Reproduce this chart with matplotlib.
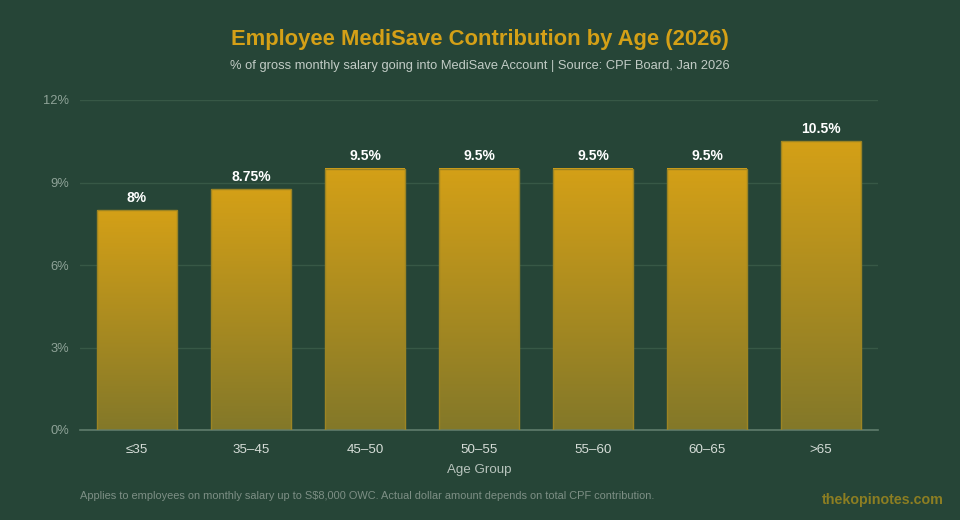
import numpy as np
import matplotlib.pyplot as plt
from matplotlib.colors import LinearSegmentedColormap

plt.rcParams['font.family'] = ['Liberation Sans', 'DejaVu Sans']

age_groups = ["≤35", "35–45", "45–50", "50–55", "55–60", "60–65", ">65"]
medisave_pct = [8, 8.75, 9.5, 9.5, 9.5, 9.5, 10.5]
value_labels = ["8%", "8.75%", "9.5%", "9.5%", "9.5%", "9.5%", "10.5%"]
y_ticks = [0, 3, 6, 9, 12]

bg = "#264537"
gold = "#D4A017"

fig = plt.figure(figsize=(9.6, 5.2), dpi=100, facecolor=bg)
ax = fig.add_axes([80 / 960, 90 / 520, 798 / 960, 330 / 520])
ax.set_facecolor(bg)

x = np.arange(len(age_groups))
bars = ax.bar(x, medisave_pct, width=0.7, color="none", edgecolor="#9c8423", linewidth=1, zorder=3)

# vertical gold gradient inside each bar
cmap = LinearSegmentedColormap.from_list("gold_fade", ["#837829", gold])
grad = np.linspace(0, 1, 256).reshape(-1, 1)
for b in bars:
    x0, w, h = b.get_x(), b.get_width(), b.get_height()
    ax.imshow(grad, cmap=cmap, origin="lower", aspect="auto",
              extent=[x0, x0 + w, 0, h], zorder=2)

for xi, v, lab in zip(x, medisave_pct, value_labels):
    ax.text(xi, v + 0.2, lab, ha="center", va="bottom", color="white",
            fontsize=10, fontweight="bold", zorder=4)

ax.set_xlim(-0.5, len(age_groups) - 0.5)
ax.set_ylim(0, 12)
ax.set_yticks(y_ticks)
ax.set_yticklabels([f"{t}%" for t in y_ticks])
ax.set_xticks(x)
ax.set_xticklabels(age_groups)
ax.grid(axis="y", color="#375846", linewidth=1, zorder=0)
ax.set_axisbelow(True)
for s in ["top", "right", "left"]:
    ax.spines[s].set_visible(False)
ax.spines["bottom"].set_color("#5f7c6c")
ax.spines["bottom"].set_linewidth(1.2)
ax.tick_params(axis="y", length=0, colors="#8fa398", labelsize=9.3, pad=8)
ax.tick_params(axis="x", length=0, colors="#d6ddd8", labelsize=9.6, pad=10)
ax.set_xlabel("Age Group", color="#b8c4bd", fontsize=9.6, labelpad=6)

fig.text(0.5, 1 - 40 / 520, "Employee MediSave Contribution by Age (2026)", ha="center", va="center",
         color=gold, fontsize=15.8, fontweight="bold")
fig.text(0.5, 1 - 66 / 520, "% of gross monthly salary going into MediSave Account | Source: CPF Board, Jan 2026",
         ha="center", va="center", color="#c2ccc6", fontsize=9.3)
fig.text(80 / 960, 1 - 496 / 520, "Applies to employees on monthly salary up to S$8,000 OWC. Actual dollar amount depends on total CPF contribution.",
         ha="left", va="center", color="#7d8f85", fontsize=7.9)
fig.text(944 / 960, 1 - 500 / 520, "thekopinotes.com", ha="right", va="center",
         color="#8c7e22", fontsize=10.3, fontweight="bold")

fig.savefig("out.png", dpi=100, facecolor=bg)
